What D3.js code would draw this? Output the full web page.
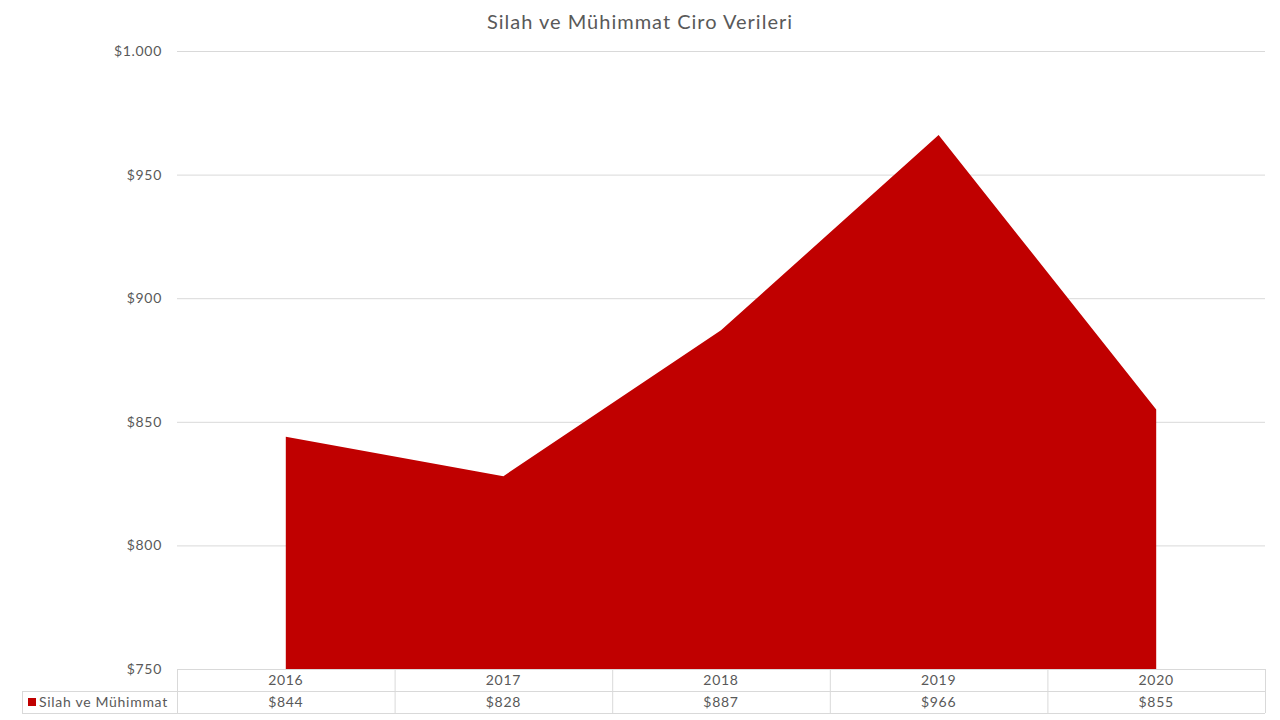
<!DOCTYPE html>
<html><head><meta charset="utf-8">
<script src="https://cdn.jsdelivr.net/npm/d3@7"></script>
<style>body{margin:0;background:#fff;}svg{display:block;font-family:"Century Gothic","Lato","DejaVu Sans",sans-serif;}</style>
</head><body><svg id="c" width="1280" height="720"></svg>
<script>
const years = ["2016","2017","2018","2019","2020"];
const values = [844, 828, 887, 966, 855];
const seriesName = "Silah ve Mühimmat";
const title = "Silah ve Mühimmat Ciro Verileri";
const yTicks = [750, 800, 850, 900, 950, 1000];

const svg = d3.select("#c");
const L = 177, R = 1265, T = 51, B = 669;
const rowH = 22;
const color = "#c00000", textCol = "#595959", gridCol = "#d9d9d9";
const fs = 14, ls = "0.7px";

const x = d3.scaleBand().domain(years).range([L, R]).padding(0);
const y = d3.scaleLinear().domain([750, 1000]).range([B, T]);
const fmt = v => "$" + d3.format(",")(v).replace(/,/g, ".");

svg.append("text").attr("x", 640).attr("y", 29).attr("text-anchor", "middle")
  .attr("font-size", 20).attr("letter-spacing", "1px").attr("fill", textCol).text(title);

// gridlines
svg.append("g").selectAll("line").data(yTicks.filter(d => d > 750)).join("line")
  .attr("x1", L).attr("x2", R).attr("y1", d => y(d) + 0.5).attr("y2", d => y(d) + 0.5)
  .attr("stroke", gridCol).attr("stroke-width", 1);

// y labels
svg.append("g").selectAll("text").data(yTicks).join("text")
  .attr("x", 162).attr("y", d => y(d)).attr("dy", "0.35em").attr("text-anchor", "end")
  .attr("font-size", fs).attr("letter-spacing", ls).attr("fill", textCol).text(fmt);

// area
const area = d3.area().x((d, i) => x(years[i]) + x.bandwidth() / 2).y0(B).y1(d => y(d));
svg.append("path").datum(values).attr("d", area).attr("fill", color);

// data table
const tg = svg.append("g");
const legL = 22;
[[L, B], [legL, B + rowH], [legL, B + 2 * rowH]].forEach(([x0, yy]) => {
  tg.append("line").attr("x1", x0).attr("x2", R).attr("y1", yy + 0.5).attr("y2", yy + 0.5)
    .attr("stroke", gridCol);
});
const vx = years.map(d => x(d)).concat([R]);
vx.forEach(xx => {
  tg.append("line").attr("x1", xx + 0.5).attr("x2", xx + 0.5).attr("y1", B).attr("y2", B + 2 * rowH)
    .attr("stroke", gridCol);
});
tg.append("line").attr("x1", legL + 0.5).attr("x2", legL + 0.5).attr("y1", B + rowH).attr("y2", B + 2 * rowH)
  .attr("stroke", gridCol);

tg.selectAll("text.yr").data(years).join("text").attr("class", "yr")
  .attr("x", d => x(d) + x.bandwidth() / 2).attr("y", B + rowH / 2).attr("dy", "0.36em")
  .attr("text-anchor", "middle").attr("font-size", fs).attr("letter-spacing", ls).attr("fill", textCol).text(d => d);
tg.selectAll("text.val").data(values).join("text").attr("class", "val")
  .attr("x", (d, i) => x(years[i]) + x.bandwidth() / 2).attr("y", B + rowH * 1.5).attr("dy", "0.36em")
  .attr("text-anchor", "middle").attr("font-size", fs).attr("letter-spacing", ls).attr("fill", textCol).text(fmt);

tg.append("rect").attr("x", 28).attr("y", B + rowH * 1.5 - 4).attr("width", 8).attr("height", 8).attr("fill", color);
tg.append("text").attr("x", 39).attr("y", B + rowH * 1.5).attr("dy", "0.36em")
  .attr("font-size", fs).attr("letter-spacing", ls).attr("fill", textCol).text(seriesName);
</script></body></html>
